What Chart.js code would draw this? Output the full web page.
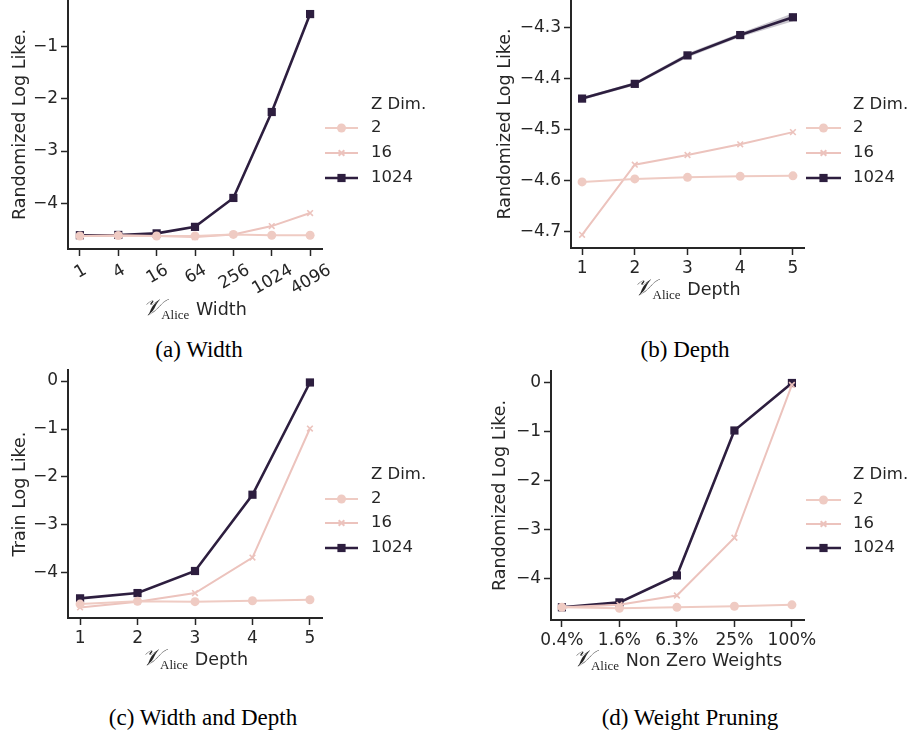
<!DOCTYPE html>
<html>
<head>
<meta charset="utf-8">
<script src="https://cdn.jsdelivr.net/npm/chart.js@4.4.1/dist/chart.umd.min.js"></script>
<style>
  body { margin: 0; background: #fff; }
  #page { position: relative; width: 912px; height: 738px; overflow: hidden; background: #fff; }
  .panel { position: absolute; width: 456px; height: 330px; }
  .cap { position: absolute; width: 300px; text-align: center; font: 23px "Liberation Serif", serif; color: #000; }
</style>
</head>
<body>
<div id="page">
  <div class="panel" style="left:0;top:0"><canvas id="chartA" width="456" height="330"></canvas></div>
  <div class="panel" style="left:456px;top:0"><canvas id="chartB" width="456" height="330"></canvas></div>
  <div class="panel" style="left:0;top:365px"><canvas id="chartC" width="456" height="330"></canvas></div>
  <div class="panel" style="left:456px;top:365px"><canvas id="chartD" width="456" height="330"></canvas></div>
  <div class="cap" style="left:49px;top:337px">(a) Width</div>
  <div class="cap" style="left:535px;top:337px">(b) Depth</div>
  <div class="cap" style="left:53px;top:705px">(c) Width and Depth</div>
  <div class="cap" style="left:540px;top:705px">(d) Weight Pruning</div>
</div>
<script>
// ---- data ----
var zLabels = ['2', '16', '1024'];

// (a) width
var widthLabels = ['1', '4', '16', '64', '256', '1024', '4096'];
var widthZ2 = [-4.63, -4.62, -4.63, -4.63, -4.60, -4.615, -4.615];
var widthZ16 = [-4.63, -4.62, -4.63, -4.65, -4.60, -4.44, -4.19];
var widthZ1024 = [-4.615, -4.61, -4.58, -4.455, -3.90, -2.25, -0.37];
var widthTicks = [-4, -3, -2, -1];

// (b) depth
var depthLabels = ['1', '2', '3', '4', '5'];
var depthZ2 = [-4.603, -4.597, -4.594, -4.592, -4.591];
var depthZ16 = [-4.707, -4.569, -4.550, -4.529, -4.505];
var depthZ1024 = [-4.439, -4.410, -4.354, -4.314, -4.279];
var depthZ1024Low = [-4.442, -4.413, -4.358, -4.318, -4.287];
var depthZ1024High = [-4.436, -4.407, -4.350, -4.310, -4.271];
var depthTicks = [-4.7, -4.6, -4.5, -4.4, -4.3];

// (c) width and depth
var bothLabels = ['1', '2', '3', '4', '5'];
var bothZ2 = [-4.65, -4.59, -4.60, -4.58, -4.56];
var bothZ16 = [-4.72, -4.60, -4.42, -3.68, -0.99];
var bothZ1024 = [-4.53, -4.42, -3.96, -2.37, -0.03];
var bothTicks = [-4, -3, -2, -1, 0];

// (d) weight pruning
var pruneLabels = ['0.4%', '1.6%', '6.3%', '25%', '100%'];
var pruneZ2 = [-4.58, -4.60, -4.58, -4.56, -4.53];
var pruneZ16 = [-4.58, -4.53, -4.34, -3.16, -0.04];
var pruneZ1024 = [-4.58, -4.48, -3.93, -0.97, 0];
var pruneTicks = [-4, -3, -2, -1, 0];

var INK = '#262626';
var COLORS = ['#efcbc3', '#ecc3bd', '#2d1e3f'];
var STYLES = ['circle', 'crossRot', 'rect'];
var RADII = [4.5, 4, 5.8];
var WIDTHS = [2, 2, 2.6];

function toPoints(values) {
  return values.map(function(v, i) { return { x: i, y: v }; });
}

function fmt(v, digits) {
  var s = Math.abs(v).toFixed(digits);
  return (v < 0 ? '\u2212' : '') + s;
}

function series(values) {
  return values.map(function(vals, k) {
    return {
      label: zLabels[k],
      data: toPoints(vals),
      borderColor: COLORS[k],
      backgroundColor: COLORS[k],
      pointBackgroundColor: COLORS[k],
      pointBorderColor: COLORS[k],
      borderWidth: WIDTHS[k],
      pointStyle: STYLES[k],
      pointRadius: RADII[k],
      pointBorderWidth: k === 1 ? 1.6 : 0,
      tension: 0
    };
  });
}

// legend, x title and rotated labels drawn on the canvas
var extras = {
  id: 'extras',
  afterDraw: function(chart, args, opts) {
    var ctx = chart.ctx;
    var area = chart.chartArea;
    ctx.save();

    // rotated tick labels
    if (opts.rotated) {
      ctx.font = '17px "DejaVu Sans"';
      ctx.fillStyle = INK;
      opts.rotated.forEach(function(lab, i) {
        var x = chart.scales.x.getPixelForValue(i);
        var w = ctx.measureText(lab).width;
        var h = 12.4;
        var bh = w * 0.5 + h * 0.866;
        var cy = area.bottom + 7 + 6 + bh / 2;
        ctx.save();
        ctx.translate(x, cy);
        ctx.rotate(-Math.PI / 6);
        ctx.textAlign = 'center';
        ctx.textBaseline = 'alphabetic';
        ctx.fillText(lab, 0, h / 2);
        ctx.restore();
      });
    }

    // x title: V_Alice word
    var cx = (area.left + area.right) / 2;
    var by = opts.titleY;
    ctx.fillStyle = INK;
    ctx.textBaseline = 'alphabetic';
    ctx.textAlign = 'left';
    ctx.font = 'italic 23px "DejaVu Serif", "Liberation Serif", serif';
    var vW = ctx.measureText('\uD835\uDCB1').width;
    ctx.font = '13px "Liberation Serif", serif';
    var aW = ctx.measureText('Alice').width;
    ctx.font = '17.5px "DejaVu Sans"';
    var tW = ctx.measureText(' ' + opts.title).width;
    var x0 = cx - (vW + aW + tW) / 2;
    ctx.font = 'italic 23px "DejaVu Serif", "Liberation Serif", serif';
    ctx.fillText('\uD835\uDCB1', x0, by);
    ctx.font = '13px "Liberation Serif", serif';
    ctx.fillText('Alice', x0 + vW - 1, by + 4);
    ctx.font = '17.5px "DejaVu Sans"';
    ctx.fillText(' ' + opts.title, x0 + vW + aW, by);

    // legend
    var lg = opts.legend;
    ctx.font = '16.5px "DejaVu Sans"';
    ctx.textBaseline = 'middle';
    ctx.fillStyle = INK;
    ctx.fillText('Z Dim.', lg.textX, lg.titleY);
    var row = 0;
    chart.data.datasets.forEach(function(ds) {
      if (ds.band) return;
      var y = lg.rows[row++];
      ctx.strokeStyle = ds.borderColor;
      ctx.lineWidth = ds.borderWidth;
      ctx.beginPath();
      ctx.moveTo(lg.x0, y);
      ctx.lineTo(lg.x1, y);
      ctx.stroke();
      ctx.fillStyle = ds.pointBackgroundColor;
      ctx.strokeStyle = ds.pointBorderColor;
      Chart.helpers.drawPoint(ctx, {
        pointStyle: ds.pointStyle,
        radius: ds.pointRadius,
        borderWidth: ds.pointBorderWidth || 0,
        rotation: 0
      }, (lg.x0 + lg.x1) / 2, y);
      ctx.fillStyle = INK;
      ctx.fillText(ds.label, lg.textX, y);
    });
    ctx.restore();
  }
};

function noPad(s) {
  s.paddingTop = 0; s.paddingBottom = 0; s.paddingLeft = 0; s.paddingRight = 0;
}

function makeChart(id, cfg) {
  var yScale = {
    type: 'linear',
    min: cfg.yMin,
    max: cfg.yMax,
    afterFit: function(s) { s.width = cfg.left; noPad(s); },
    afterBuildTicks: function(s) {
      s.ticks = cfg.yTicks.map(function(v) { return { value: v }; });
    },
    ticks: {
      color: INK,
      font: { family: 'DejaVu Sans', size: 17 },
      padding: 3,
      callback: function(v) { return fmt(v, cfg.digits); }
    },
    grid: { display: true, drawOnChartArea: false, drawTicks: true, tickLength: 7, tickWidth: 1.5, tickColor: INK },
    border: { display: true, color: INK, width: 2 },
    title: {
      display: true,
      text: cfg.yTitle,
      color: INK,
      font: { family: 'DejaVu Sans', size: 17.5 },
      padding: { top: cfg.yTitlePad, bottom: 0 }
    }
  };
  var xScale = {
    type: 'linear',
    min: cfg.xMin,
    max: cfg.xMax,
    afterFit: function(s) { s.height = 330 - cfg.bottom; noPad(s); },
    afterBuildTicks: function(s) {
      s.ticks = cfg.xLabels.map(function(l, i) { return { value: i }; });
    },
    ticks: {
      display: !cfg.rotated,
      color: INK,
      font: { family: 'DejaVu Sans', size: 17 },
      padding: 3,
      maxRotation: 0,
      callback: function(v) { return cfg.xLabels[v]; }
    },
    grid: { display: true, drawOnChartArea: false, drawTicks: true, tickLength: 7, tickWidth: 1.5, tickColor: INK },
    border: { display: true, color: INK, width: 2 }
  };
  return new Chart(document.getElementById(id), {
    type: 'line',
    data: { datasets: cfg.datasets },
    options: {
      responsive: false,
      animation: false,
      clip: false,
      layout: { autoPadding: false, padding: { left: 0, top: cfg.top, right: 456 - cfg.right, bottom: 0 } },
      scales: { x: xScale, y: yScale },
      plugins: {
        legend: { display: false },
        tooltip: { enabled: false },
        extras: {
          rotated: cfg.rotated ? cfg.xLabels : null,
          title: cfg.xTitle,
          titleY: cfg.xTitleY,
          legend: cfg.legend
        }
      }
    },
    plugins: [extras]
  });
}

var legendLeft = { x0: 325, x1: 358, textX: 371 };
var legendRight = { x0: 350, x1: 385, textX: 397 };

makeChart('chartA', {
  left: 68, right: 322, top: 0, bottom: 249,
  xMin: -0.31, xMax: 6.31, yMin: -4.88, yMax: -0.10,
  yTicks: widthTicks, digits: 0, xLabels: widthLabels, rotated: true,
  yTitle: 'Randomized Log Like.', yTitlePad: 9.5,
  xTitle: 'Width', xTitleY: 315,
  legend: Object.assign({ titleY: 105, rows: [128, 153, 178] }, legendLeft),
  datasets: series([widthZ2, widthZ16, widthZ1024])
});

var depthSets = series([depthZ2, depthZ16, depthZ1024]);
depthSets.unshift({
  band: true, data: toPoints(depthZ1024High), fill: '-1',
  borderWidth: 0, pointRadius: 0, backgroundColor: 'rgba(45,30,63,0.25)'
});
depthSets.unshift({
  band: true, data: toPoints(depthZ1024Low), fill: false,
  borderWidth: 0, pointRadius: 0
});

makeChart('chartB', {
  left: 115, right: 348, top: 0, bottom: 248,
  xMin: -0.21, xMax: 4.21, yMin: -4.733, yMax: -4.245,
  yTicks: depthTicks, digits: 1, xLabels: depthLabels, rotated: false,
  yTitle: 'Randomized Log Like.', yTitlePad: 39,
  xTitle: 'Depth', xTitleY: 295,
  legend: Object.assign({ titleY: 105, rows: [128, 153, 178] }, legendRight),
  datasets: depthSets
});

makeChart('chartC', {
  left: 68, right: 322, top: 5, bottom: 253,
  xMin: -0.21, xMax: 4.21, yMin: -4.94, yMax: 0.23,
  yTicks: bothTicks, digits: 0, xLabels: bothLabels, rotated: false,
  yTitle: 'Train Log Like.', yTitlePad: 9.5,
  xTitle: 'Depth', xTitleY: 300,
  legend: Object.assign({ titleY: 110, rows: [134, 158, 183] }, legendLeft),
  datasets: series([bothZ2, bothZ16, bothZ1024])
});

makeChart('chartD', {
  left: 95, right: 348, top: 6, bottom: 255,
  xMin: -0.19, xMax: 4.21, yMin: -4.84, yMax: 0.245,
  yTicks: pruneTicks, digits: 0, xLabels: pruneLabels, rotated: false,
  yTitle: 'Randomized Log Like.', yTitlePad: 34,
  xTitle: 'Non Zero Weights', xTitleY: 301,
  legend: Object.assign({ titleY: 110, rows: [135, 159, 183] }, legendRight),
  datasets: series([pruneZ2, pruneZ16, pruneZ1024])
});
</script>
</body>
</html>
